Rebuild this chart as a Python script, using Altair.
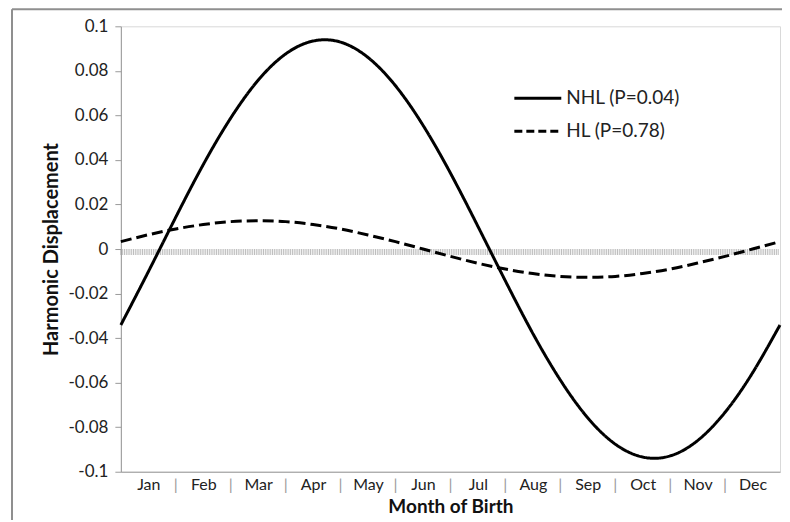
import altair as alt
import pandas as pd

months = ["Jan", "Feb", "Mar", "Apr", "May", "Jun", "Jul", "Aug", "Sep", "Oct", "Nov", "Dec"]
month_pos = [0.0, 0.5, 1.0, 1.5, 2.0, 2.5, 3.0, 3.5, 4.0, 4.5, 5.0, 5.5, 6.0,
             6.5, 7.0, 7.5, 8.0, 8.5, 9.0, 9.5, 10.0, 10.5, 11.0, 11.5, 12.0]
nhl = [-0.0341, -0.0102, 0.0143, 0.0379, 0.0588, 0.0758, 0.0876, 0.0934, 0.0929,
       0.0860, 0.0733, 0.0556, 0.0341, 0.0102, -0.0143, -0.0379, -0.0588, -0.0758,
       -0.0876, -0.0934, -0.0929, -0.0860, -0.0733, -0.0556, -0.0341]
hl = [0.0033, 0.0064, 0.0090, 0.0110, 0.0123, 0.0127, 0.0123, 0.0110, 0.0090,
      0.0063, 0.0033, 0.0000, -0.0033, -0.0064, -0.0090, -0.0110, -0.0123, -0.0127,
      -0.0123, -0.0110, -0.0090, -0.0063, -0.0033, 0.0000, 0.0033]
series_names = ["NHL", "HL"]
legend_labels = ["NHL (P=0.04)", "HL (P=0.78)"]
y_ticks = [-0.1, -0.08, -0.06, -0.04, -0.02, 0.0, 0.02, 0.04, 0.06, 0.08, 0.1]
label_pos = [0.5, 1.5, 2.5, 3.5, 4.5, 5.5, 6.5, 7.5, 8.5, 9.5, 10.5, 11.5]
separators = [1, 2, 3, 4, 5, 6, 7, 8, 9, 10, 11]
n_days = 365

FONT = "Lato"
GRID = "#ababab"
AXIS = "#9a9a9a"

df = pd.DataFrame({
    "m": month_pos * 2,
    "v": nhl + hl,
    "s": [series_names[0]] * len(nhl) + [series_names[1]] * len(hl),
})
days = pd.DataFrame({"d": [i * 12 / n_days for i in range(n_days)]})
seps = pd.DataFrame({"m": separators})

xscale = alt.Scale(domain=[0, 12], nice=False, zero=False)
yscale = alt.Scale(domain=[-0.1, 0.1], nice=False, zero=False)

month_expr = "[" + ",".join(f"'{m}'" for m in months) + "][floor(datum.value)]"

x_axis = alt.Axis(
    values=label_pos, labelExpr=month_expr, ticks=False, grid=False,
    domainColor=AXIS, labelFont=FONT, labelFontSize=16, labelColor="#222222",
    labelPadding=5, labelFlush=False,
    title="Month of Birth", titleFont=FONT, titleFontSize=19, titleFontWeight="bold",
    titleColor="#111111", titleY=35, titleBaseline="middle",
)
y_axis = alt.Axis(
    values=y_ticks, labelExpr="toString(round(datum.value*100)/100)",
    tickSize=6, tickColor=AXIS, domainColor=AXIS, gridColor=GRID,
    labelFont=FONT, labelFontSize=17, labelColor="#222222", labelPadding=7,
    title="Harmonic Displacement", titleFont=FONT, titleFontSize=20,
    titleFontWeight="bold", titleColor="#111111",
    titleX=-69, titleY=223, titleAngle=270, titleAlign="center", titleBaseline="middle",
)

hatch = alt.Chart(days).mark_tick(
    orient="vertical", size=6, thickness=1, color="#a0a0a0", yOffset=3
).encode(
    x=alt.X("d:Q", scale=xscale, axis=x_axis),
    y=alt.datum(0, scale=yscale, axis=y_axis),
)

lines = alt.Chart(df).mark_line(
    interpolate="natural", strokeWidth=3, color="black"
).encode(
    x=alt.X("m:Q", scale=xscale),
    y=alt.Y("v:Q", scale=yscale),
    strokeDash=alt.StrokeDash(
        "s:N", scale=alt.Scale(domain=series_names, range=[[1, 0], [11, 5]]), legend=None
    ),
)

sep_text = alt.Chart(seps).mark_text(
    text="|", dy=13, fontSize=16, font=FONT, color="#9a9a9a", baseline="middle"
).encode(
    x=alt.X("m:Q", scale=xscale),
    y=alt.datum(-0.1, scale=yscale),
)

one = pd.DataFrame({"a": [0]})
border_top = alt.Chart(one).mark_rule(color="#8f8f8f", strokeWidth=2).encode(
    x=alt.value(-109), x2=alt.value(700), y=alt.value(-17)
)
border_left = alt.Chart(one).mark_rule(color="#8f8f8f", strokeWidth=2).encode(
    x=alt.value(-109), y=alt.value(-17), y2=alt.value(520)
)

legend_layers = []
dashes = [[1, 0], [8, 4]]
for i, lab in enumerate(legend_labels):
    ly = 72 + 33 * i
    legend_layers.append(
        alt.Chart(one).mark_rule(color="black", strokeWidth=3, strokeDash=dashes[i]).encode(
            x=alt.value(394), x2=alt.value(441), y=alt.value(ly)
        )
    )
    legend_layers.append(
        alt.Chart(pd.DataFrame({"label": [lab]})).mark_text(
            align="left", baseline="middle", font=FONT, fontSize=19, color="#222222"
        ).encode(x=alt.value(446), y=alt.value(ly), text="label:N")
    )

chart = alt.layer(
    hatch, lines, sep_text, border_top, border_left, *legend_layers
).properties(
    width=660, height=446,
    padding={"left": 113, "top": 18, "right": 2, "bottom": 48},
    autosize="none",
    background="white",
).configure_view(stroke="#d9d9d9")

chart.save("out.html", embed_options={"renderer": "svg", "actions": False})
